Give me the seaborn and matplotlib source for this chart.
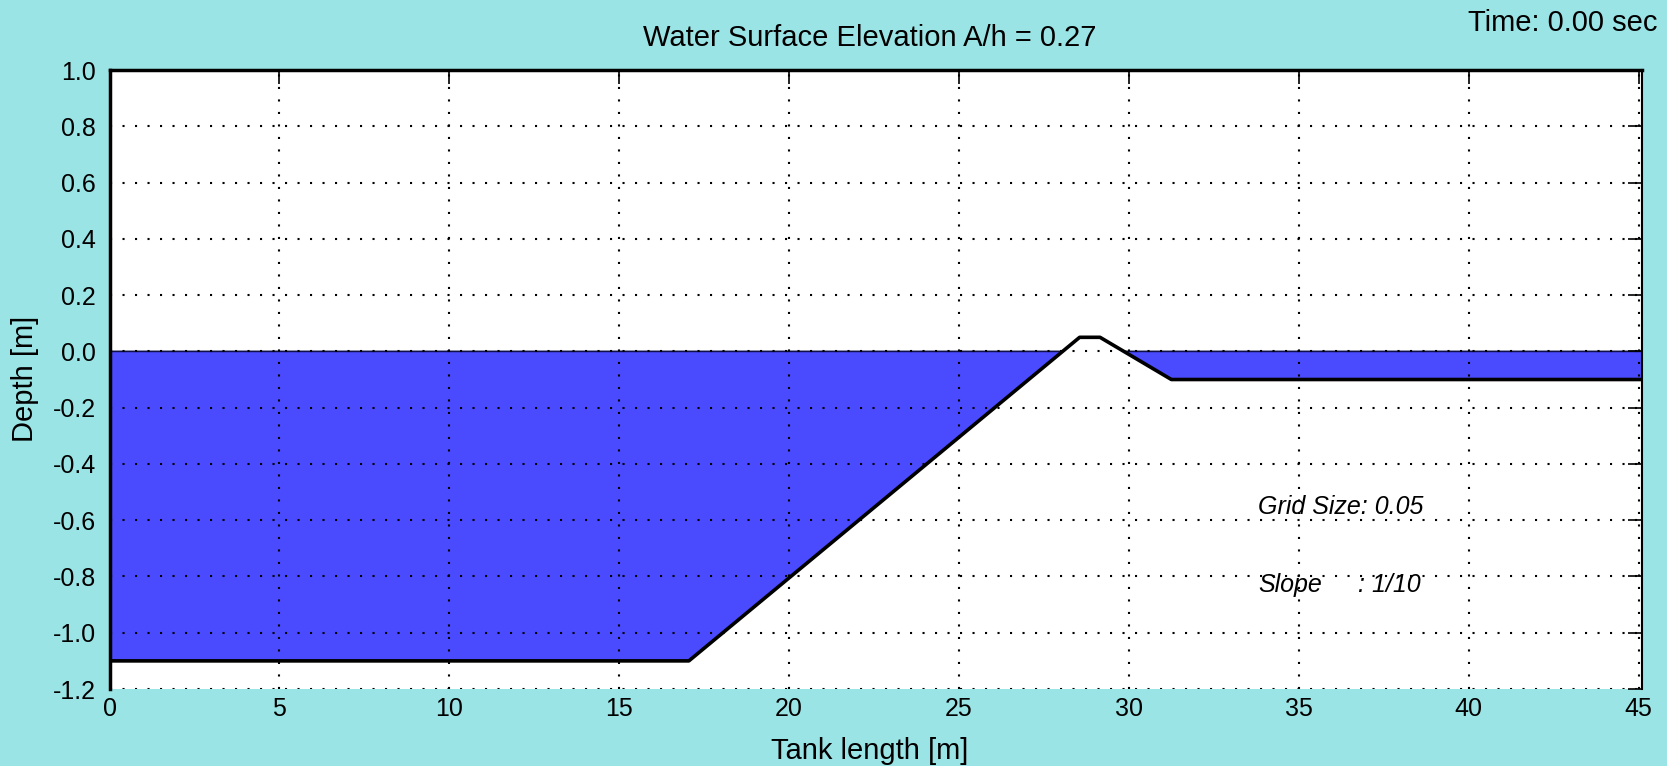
import numpy as np
import pandas as pd
import matplotlib
matplotlib.use("Agg")
import matplotlib.pyplot as plt
import seaborn as sns

# ---- data ----
bottom_x = [0.0, 17.05, 28.55, 29.15, 31.25, 45.1]
bottom_z = [-1.1, -1.1, 0.05, 0.05, -0.1, -0.1]
surface_eta = [0.0, 0.0, 0.0, 0.0, 0.0, 0.0]
x_ticks = [0, 5, 10, 15, 20, 25, 30, 35, 40, 45]
y_ticks = [1.0, 0.8, 0.6, 0.4, 0.2, 0.0, -0.2, -0.4, -0.6, -0.8, -1.0, -1.2]
title_text = "Water Surface Elevation A/h = 0.27"
time_text = "Time: 0.00 sec"
grid_text = "Grid Size: 0.05"
slope_label = "Slope"
slope_value = ": 1/10"

BG = "#9be4e6"
WATER = "#4a4aff"

sns.set_theme(style="white")
plt.rcParams["font.family"] = ["Liberation Sans", "DejaVu Sans"]

df = pd.DataFrame({"x": bottom_x, "z": bottom_z, "eta": surface_eta})

fig = plt.figure(figsize=(16.67, 7.66), dpi=100, facecolor=BG)
ax = fig.add_axes([0.0657, 0.1005, 0.9193, 0.8081])
ax.set_facecolor("white")

x = np.array(bottom_x)
z = np.array(bottom_z)
eta = np.array(surface_eta)
ax.fill_between(x, z, eta, where=z < eta, interpolate=True,
                facecolor=WATER, edgecolor="#10104a", linewidth=1.2, zorder=2)
sns.lineplot(data=df, x="x", y="z", color="black", linewidth=2.6,
             ax=ax, zorder=3, sort=False)

ax.set_xlim(0, 45.1)
ax.set_ylim(-1.2, 1.0)
ax.set_xticks(x_ticks)
ax.set_yticks(y_ticks)
ax.set_xticklabels([str(t) for t in x_ticks])
ax.set_yticklabels([f"{t:.1f}" for t in y_ticks])
ax.set_xlabel("")
ax.set_ylabel("")

ax.grid(True, color="black", linestyle=(0, (1, 5)), linewidth=1.5, zorder=1)
ax.set_axisbelow(False)
ax.tick_params(direction="in", length=10, width=1.2, top=True, right=True,
               labelsize=18, colors="black")
ax.tick_params(axis="x", pad=6)
ax.tick_params(axis="y", pad=10)
for s in ["left", "top"]:
    ax.spines[s].set_color("black")
    ax.spines[s].set_linewidth(2.5)
ax.spines["right"].set_color("black")
ax.spines["right"].set_linewidth(1.5)
ax.spines["bottom"].set_visible(False)

fig.text(0.522, 0.951, title_text, ha="center", va="center", fontsize=21, color="black")
fig.text(0.522, 0.019, "Tank length [m]", ha="center", va="center", fontsize=21, color="black")
fig.text(0.0150, 0.505, "Depth [m]", ha="center", va="center", rotation=90, fontsize=21, color="black")
fig.text(0.9946, 0.970, time_text, ha="right", va="center", fontsize=21, color="black")

ax.text(33.8, -0.553, grid_text, fontsize=18, style="italic", va="center", ha="left", color="black")
ax.text(33.8, -0.832, slope_label, fontsize=18, style="italic", va="center", ha="left", color="black")
ax.text(36.75, -0.832, slope_value, fontsize=18, style="italic", va="center", ha="left", color="black")

fig.savefig("out.png", dpi=100, facecolor=BG)
